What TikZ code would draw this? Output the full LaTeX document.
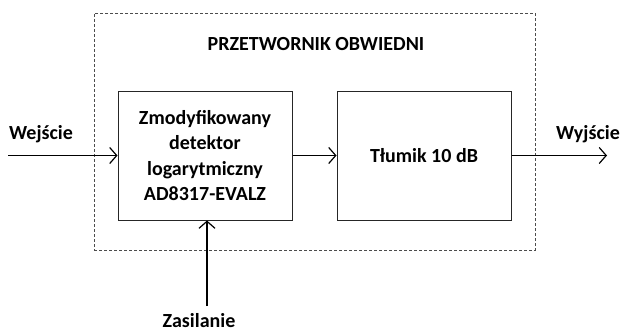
\documentclass[tikz,border=0pt]{standalone}
\usepackage{fontspec}
\setmainfont{Carlito}
\usetikzlibrary{arrows.meta}
\begin{document}
\begin{tikzpicture}[x=1pt,y=-1pt,
  lbl/.style={font=\bfseries\fontsize{20}{25.5}\selectfont, inner sep=0pt},
  blk/.style={draw=black!85, line width=1pt, minimum width=174pt, minimum height=129pt, inner sep=0pt, align=center, font=\bfseries\fontsize{20}{25.5}\selectfont},
  arr/.style={line width=1.2pt, -{Straight Barb[length=7pt,width=16pt,line width=1.2pt]}},
  outer/.style={draw=black!70, line width=0.7pt, dash pattern=on 3pt off 2pt}
]
\useasboundingbox (0,0) rectangle (622,332);
\node[outer, minimum width=441pt, minimum height=237pt, inner sep=0pt] (box) at (314.5,131.5) {};
\node[lbl] (title) at (316,44) {PRZETWORNIK OBWIEDNI};
\node[blk] (det) at (205,155.5) {Zmodyfikowany\\detektor\\logarytmiczny\\AD8317-EVALZ};
\node[blk] (tl) at (424,155.5) {Tłumik 10 dB};
\coordinate (in) at (8,155.5);
\coordinate (out) at (607,155.5);
\coordinate (zas) at (207,306);
\node[lbl] (wej) at (41,134) {Wejście};
\node[lbl] (wyj) at (588,134) {Wyjście};
\node[lbl] (zasl) at (199,321) {Zasilanie};
\draw[arr] (in) -- (det.west);
\draw[arr] (det.east) -- (tl.west);
\draw[arr] (tl.east) -- (out);
\draw[arr] (zas) -- (zas |- det.south);
\end{tikzpicture}
\end{document}
